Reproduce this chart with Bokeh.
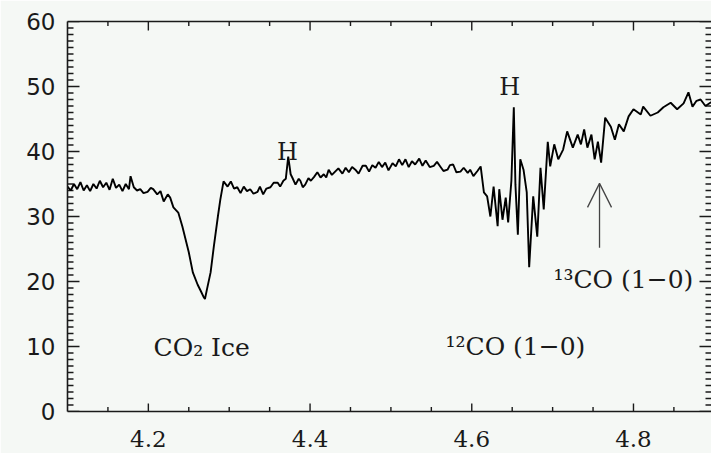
from bokeh.plotting import figure
from bokeh.models import Range1d, LinearAxis, FixedTicker, Arrow, OpenHead
from bokeh.core.properties import value
from bokeh.embed import file_html
from bokeh.resources import INLINE

# ---- spectrum (wavelength in micron, flux) ----
wavelength = [
    4.100, 4.104, 4.108, 4.112, 4.116, 4.120, 4.124, 4.128, 4.132, 4.136,
    4.140, 4.144, 4.148, 4.152, 4.156, 4.160, 4.164, 4.168, 4.172, 4.176,
    4.178, 4.182, 4.186, 4.190, 4.194, 4.199, 4.203, 4.206, 4.211, 4.215,
    4.219, 4.224, 4.227, 4.231, 4.237, 4.242, 4.246, 4.250, 4.255, 4.261,
    4.265, 4.268, 4.270, 4.273, 4.277, 4.281, 4.286, 4.289, 4.293, 4.298,
    4.302, 4.306, 4.310, 4.314, 4.318, 4.322, 4.326, 4.330, 4.335, 4.338,
    4.342, 4.346, 4.351, 4.355, 4.360, 4.363, 4.367, 4.370, 4.373, 4.376,
    4.378, 4.382, 4.386, 4.388, 4.391, 4.394, 4.398, 4.401, 4.405, 4.409,
    4.413, 4.417, 4.420, 4.423, 4.427, 4.431, 4.435, 4.440, 4.444, 4.448,
    4.452, 4.456, 4.460, 4.465, 4.469, 4.473, 4.477, 4.481, 4.485, 4.489,
    4.493, 4.497, 4.502, 4.506, 4.510, 4.514, 4.518, 4.522, 4.526, 4.530,
    4.535, 4.539, 4.543, 4.548, 4.553, 4.557, 4.561, 4.565, 4.570, 4.573,
    4.577, 4.581, 4.586, 4.590, 4.595, 4.598, 4.602, 4.607, 4.611, 4.615,
    4.619, 4.623, 4.627, 4.632, 4.634, 4.638, 4.642, 4.645, 4.649, 4.652,
    4.654, 4.657, 4.660, 4.664, 4.668, 4.671, 4.676, 4.681, 4.685, 4.689,
    4.694, 4.697, 4.702, 4.707, 4.713, 4.718, 4.725, 4.731, 4.735, 4.739,
    4.743, 4.748, 4.752, 4.756, 4.760, 4.765, 4.772, 4.777, 4.782, 4.788,
    4.794, 4.800, 4.809, 4.812, 4.821, 4.830, 4.837, 4.846, 4.854, 4.862,
    4.868, 4.873, 4.878, 4.883, 4.889, 4.895, 4.900,
]
flux = [
    34.6, 34.0, 35.0, 34.2, 35.3, 34.0, 34.8, 33.9, 35.0, 34.3,
    35.5, 34.5, 35.2, 34.1, 35.8, 34.4, 34.9, 33.9, 35.0, 34.2,
    36.2, 34.5, 34.0, 34.2, 33.6, 33.8, 34.4, 34.2, 33.4, 33.9,
    32.3, 33.4, 32.9, 31.4, 30.6, 28.5, 26.5, 24.5, 21.4, 19.5,
    18.5, 17.7, 17.3, 19.1, 21.4, 25.4, 30.0, 32.6, 35.4, 34.6,
    35.4, 34.3, 34.5, 33.6, 34.6, 33.9, 34.2, 33.5, 33.8, 34.6,
    33.4, 34.3, 34.5, 35.2, 35.2, 34.6, 35.5, 35.8, 39.2, 36.5,
    36.0, 34.9, 35.8, 35.5, 34.5, 34.9, 35.9, 35.5, 36.1, 36.8,
    36.0, 36.5, 36.0, 37.2, 36.4, 36.9, 37.4, 36.6, 37.5, 36.8,
    37.6, 37.2, 36.6, 37.8, 37.8, 36.9, 37.9, 37.5, 38.4, 37.6,
    38.3, 37.1, 38.2, 37.7, 38.8, 37.9, 38.8, 37.6, 38.5, 38.0,
    38.9, 37.8, 38.6, 37.6, 37.8, 38.4, 37.7, 37.0, 37.2, 37.9,
    38.0, 36.8, 36.9, 37.5, 36.7, 37.2, 36.2, 37.0, 37.7, 33.7,
    33.1, 30.0, 34.6, 28.5, 34.2, 29.5, 32.9, 29.1, 35.5, 46.8,
    34.9, 27.2, 38.8, 37.2, 33.7, 22.2, 33.1, 26.9, 37.5, 31.1,
    41.5, 37.7, 41.1, 38.8, 40.3, 43.1, 40.6, 42.6, 41.1, 43.4,
    40.6, 42.6, 38.8, 41.5, 38.3, 45.2, 43.8, 41.8, 44.2, 43.1,
    45.4, 46.5, 45.7, 46.9, 45.5, 46.0, 46.8, 47.5, 46.5, 47.4,
    49.1, 46.9, 47.8, 48.0, 47.0, 47.5, 47.8,
]

# ---- axes ----
x_start, x_end = 4.1, 4.8965
y_start, y_end = 0, 60
x_major = [4.2, 4.4, 4.6, 4.8]
x_minor = [4.15, 4.25, 4.3, 4.35, 4.45, 4.5, 4.55, 4.65, 4.7, 4.75, 4.85]
y_major = [0, 10, 20, 30, 40, 50, 60]
y_minor = [v for v in range(1, 60) if v % 10 != 0]

# ---- annotations ----
label_text = ["CO\u2082 Ice", "\u00b9\u00b2CO (1\u22120)", "\u00b9\u00b3CO (1\u22120)"]
label_x = [4.2064, 4.5675, 4.701]
label_y = [9.9, 10.0, 20.3]
h_text = ["H", "H"]
h_x = [4.372, 4.647]
h_y = [40.0, 50.0]
arrow_x = 4.758
arrow_tail = 25.2
arrow_tip = 35.1

BG = "#f5f8f5"
INK = "#1a1a1a"

FRAME_W, FRAME_H = 644, 390  # frame size in screen pixels
dx = (x_end - x_start) / FRAME_W  # data units per pixel
dy = (y_end - y_start) / FRAME_H

p = figure(width=711, height=453, output_backend="svg", toolbar_location=None,
           x_range=Range1d(x_start, x_end), y_range=Range1d(y_start, y_end),
           x_axis_location=None, y_axis_location=None,
           min_border_left=67, min_border_top=21, min_border_right=0,
           min_border_bottom=42)
p.background_fill_color = BG
p.border_fill_color = BG
p.outline_line_color = None
p.grid.visible = False


def make_axis(ticks, font=None, size="22px", standoff=12):
    ax = LinearAxis(ticker=FixedTicker(ticks=ticks, minor_ticks=[]))
    ax.major_tick_in = 0
    ax.major_tick_out = 0
    ax.minor_tick_in = 0
    ax.minor_tick_out = 0
    ax.axis_line_color = INK
    ax.axis_line_width = 1.6
    if font:
        ax.major_label_text_font = font
        ax.major_label_text_font_size = size
        ax.major_label_text_color = INK
        ax.major_label_standoff = standoff
    return ax


p.add_layout(make_axis(x_major, "DejaVu Serif", "23px", 19), "below")
p.add_layout(make_axis(y_major, "DejaVu Sans", "23px", 12), "left")
p.add_layout(make_axis([]), "above")

# inward ticks drawn as short segments from each frame edge
def ticks_x(vals, y_edge, length_px, sign):
    p.segment(x0=vals, y0=[y_edge] * len(vals), x1=vals,
              y1=[y_edge + sign * length_px * dy] * len(vals),
              line_color=INK, line_width=1.4)


def ticks_y(vals, x_edge, length_px, sign):
    p.segment(x0=[x_edge] * len(vals), y0=vals,
              x1=[x_edge + sign * length_px * dx] * len(vals), y1=vals,
              line_color=INK, line_width=1.4)


ticks_x(x_major, y_start, 8, 1)
ticks_x(x_minor, y_start, 4.5, 1)
ticks_x(x_major, y_end, 9, -1)
ticks_x(x_minor, y_end, 4.5, -1)
ticks_y(y_major, x_start, 12, 1)
ticks_y(y_minor, x_start, 6, 1)
ticks_y(y_major, x_end, 12, -1)
ticks_y(y_minor, x_end, 6, -1)

p.line(wavelength, flux, line_color="#000000", line_width=1.9)

p.text(x=label_x, y=label_y, text=label_text, text_font=value("DejaVu Serif"),
       text_font_size="25px", text_align="left", text_baseline="alphabetic",
       text_color=INK)
p.text(x=h_x, y=h_y, text=h_text, text_font=value("DejaVu Serif"),
       text_font_size="24px", text_align="center", text_baseline="alphabetic",
       text_color=INK)

p.add_layout(Arrow(x_start=arrow_x, y_start=arrow_tail, x_end=arrow_x, y_end=arrow_tip,
                   line_color="#444444", line_width=1.3,
                   end=OpenHead(size=24, line_color="#444444", line_width=1.3)))

open("out.html", "w").write(file_html(p, INLINE))
